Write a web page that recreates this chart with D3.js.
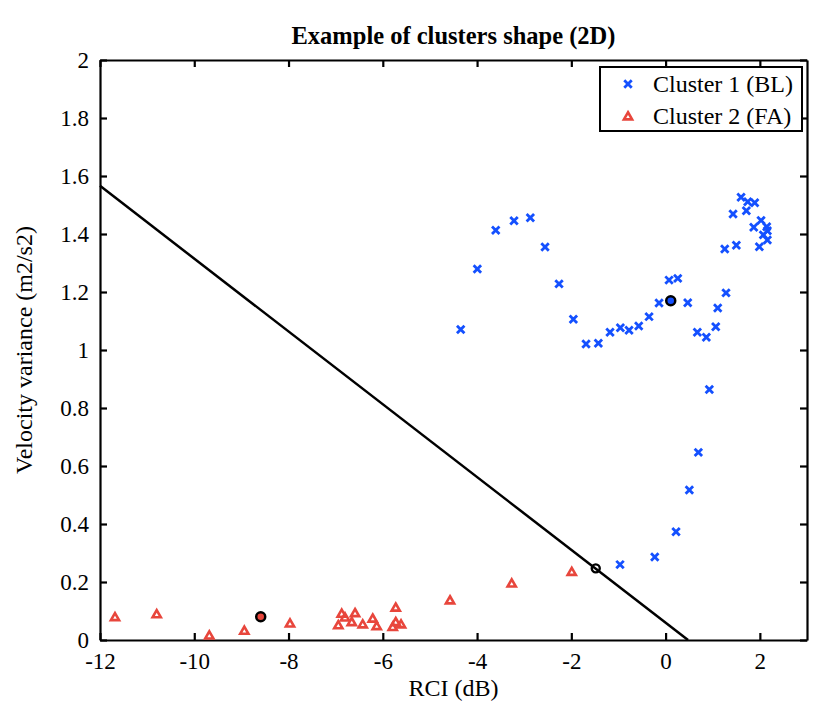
<!DOCTYPE html>
<html>
<head>
<meta charset="utf-8">
<script src="https://cdn.jsdelivr.net/npm/d3@7"></script>
<style>
  body { margin: 0; background: #fff; }
  svg text { font-family: "Liberation Serif", "Times New Roman", serif; }
</style>
</head>
<body>
<div id="chart"></div>
<script>
// Cluster 1 (BL) points
const blX = [-4.347, -3.994, -3.604, -3.216, -2.870, -2.558, -2.261, -1.957, -1.688, -1.427,
  -1.179, -0.960, -0.776, -0.570, -0.351, -0.139, 0.073, 0.258, 0.470, 0.673,
  0.864, 1.064, 1.106, 1.282, 1.255, 1.501, 1.431, 1.601, 1.743, 1.891,
  1.713, 2.025, 1.870, 2.146, 2.159, 2.074, 2.159, 1.989,
  0.928, 0.695, 0.504, 0.221, -0.230, -0.967];
const blY = [1.071, 1.279, 1.413, 1.446, 1.456, 1.355, 1.228, 1.106, 1.021, 1.023,
  1.061, 1.077, 1.068, 1.083, 1.115, 1.162, 1.241, 1.247, 1.163, 1.061,
  1.044, 1.080, 1.145, 1.197, 1.348, 1.361, 1.469, 1.527, 1.511, 1.508,
  1.480, 1.447, 1.423, 1.425, 1.411, 1.397, 1.379, 1.356,
  0.864, 0.647, 0.517, 0.373, 0.286, 0.260];

// Cluster 2 (FA) points
const faX = [-11.682, -10.797, -9.681, -8.938, -7.969, -6.872, -6.944, -6.802, -6.589, -6.659,
  -6.426, -6.214, -6.129, -5.726, -5.726, -5.790, -5.613, -4.574, -3.265, -1.991];
const faY = [0.080, 0.090, 0.017, 0.033, 0.058, 0.092, 0.052, 0.079, 0.094, 0.063,
  0.055, 0.075, 0.049, 0.113, 0.063, 0.046, 0.055, 0.138, 0.196, 0.236];

// cluster centres
const centreX = [0.109, -8.590];
const centreY = [1.170, 0.080];

// separating line and its crossing point
const lineX = [-12, 0.476];
const lineY = [1.566, 0];
const crossX = [-1.482];
const crossY = [0.247];

const xTicks = [-12, -10, -8, -6, -4, -2, 0, 2];
const yTicks = [0, 0.2, 0.4, 0.6, 0.8, 1, 1.2, 1.4, 1.6, 1.8, 2];

const width = 832, height = 714;
const margin = {top: 60, right: 25, bottom: 74, left: 100};
const blue = "#1450ff", red = "#e8463c";

const svg = d3.select("#chart").append("svg")
  .attr("width", width)
  .attr("height", height);

const x = d3.scaleLinear().domain([-12, 3]).range([margin.left, width - margin.right]);
const y = d3.scaleLinear().domain([0, 2]).range([height - margin.bottom, margin.top]);

const fmt = d => String(+d.toFixed(1));  // plain hyphen minus, like the original

// axes, ticks pointing inward on all four sides
svg.append("g")
  .attr("transform", `translate(0,${y(0)})`)
  .call(d3.axisBottom(x).tickValues(xTicks).tickSizeInner(-7).tickSizeOuter(0).tickPadding(13).tickFormat(fmt));
svg.append("g")
  .attr("transform", `translate(0,${y(2)})`)
  .call(d3.axisTop(x).tickValues(xTicks).tickSizeInner(-7).tickSizeOuter(0).tickFormat(""));
svg.append("g")
  .attr("transform", `translate(${x(-12)},0)`)
  .call(d3.axisLeft(y).tickValues(yTicks).tickSizeInner(-7).tickSizeOuter(0).tickPadding(11).tickFormat(fmt));
svg.append("g")
  .attr("transform", `translate(${x(3)},0)`)
  .call(d3.axisRight(y).tickValues(yTicks).tickSizeInner(-7).tickSizeOuter(0).tickFormat(""));

svg.selectAll("g").attr("font-family", null).attr("font-size", null);
svg.selectAll(".domain, .tick line").attr("stroke", "#000").attr("stroke-width", 2.2);
svg.selectAll(".tick text").attr("fill", "#000").style("font-size", "23px");

// separating line
svg.append("path")
  .datum(d3.zip(lineX, lineY))
  .attr("fill", "none")
  .attr("stroke", "#000")
  .attr("stroke-width", 2.5)
  .attr("d", d3.line().x(d => x(d[0])).y(d => y(d[1])));

const cross = d3.symbol().type(d3.symbolTimes).size(38);
const tri = d3.symbol().type(d3.symbolTriangle2).size(48);

svg.append("g")
  .selectAll("path")
  .data(d3.zip(blX, blY))
  .join("path")
  .attr("transform", d => `translate(${x(d[0])},${y(d[1])})`)
  .attr("d", cross)
  .attr("fill", "none")
  .attr("stroke", blue)
  .attr("stroke-width", 2.8);

svg.append("g")
  .selectAll("path")
  .data(d3.zip(faX, faY))
  .join("path")
  .attr("transform", d => `translate(${x(d[0])},${y(d[1]) + 1})`)
  .attr("d", tri)
  .attr("fill", "none")
  .attr("stroke", red)
  .attr("stroke-width", 2.6);

// centres
svg.append("g")
  .selectAll("circle")
  .data(d3.zip(centreX, centreY, [blue, red]))
  .join("circle")
  .attr("cx", d => x(d[0]))
  .attr("cy", d => y(d[1]))
  .attr("r", 4.5)
  .attr("fill", d => d[2])
  .attr("stroke", "#000")
  .attr("stroke-width", 2.5);

svg.append("g")
  .selectAll("circle")
  .data(d3.zip(crossX, crossY))
  .join("circle")
  .attr("cx", d => x(d[0]))
  .attr("cy", d => y(d[1]))
  .attr("r", 4)
  .attr("fill", "none")
  .attr("stroke", "#000")
  .attr("stroke-width", 2.4);

// legend
const legend = svg.append("g").attr("transform", "translate(600,67)");
legend.append("rect")
  .attr("width", 202).attr("height", 64)
  .attr("fill", "#fff").attr("stroke", "#000").attr("stroke-width", 2);
legend.append("path")
  .attr("transform", "translate(28,17)")
  .attr("d", cross)
  .attr("fill", "none").attr("stroke", blue).attr("stroke-width", 2.8);
legend.append("path")
  .attr("transform", "translate(28,50)")
  .attr("d", tri)
  .attr("fill", "none").attr("stroke", red).attr("stroke-width", 2.6);
legend.selectAll("text")
  .data(["Cluster 1 (BL)", "Cluster 2 (FA)"])
  .join("text")
  .attr("x", 53)
  .attr("y", (d, i) => 25 + i * 32)
  .style("font-size", "24px")
  .text(d => d);

// title and axis labels
svg.append("text")
  .attr("x", (x(-12) + x(3)) / 2)
  .attr("y", 44)
  .attr("text-anchor", "middle")
  .style("font-size", "24.5px")
  .style("font-weight", "bold")
  .text("Example of clusters shape (2D)");

svg.append("text")
  .attr("x", (x(-12) + x(3)) / 2)
  .attr("y", 696)
  .attr("text-anchor", "middle")
  .style("font-size", "24px")
  .text("RCI (dB)");

svg.append("text")
  .attr("transform", `translate(32,${(y(0) + y(2)) / 2}) rotate(-90)`)
  .attr("text-anchor", "middle")
  .style("font-size", "24px")
  .text("Velocity variance (m2/s2)");
</script>
</body>
</html>
